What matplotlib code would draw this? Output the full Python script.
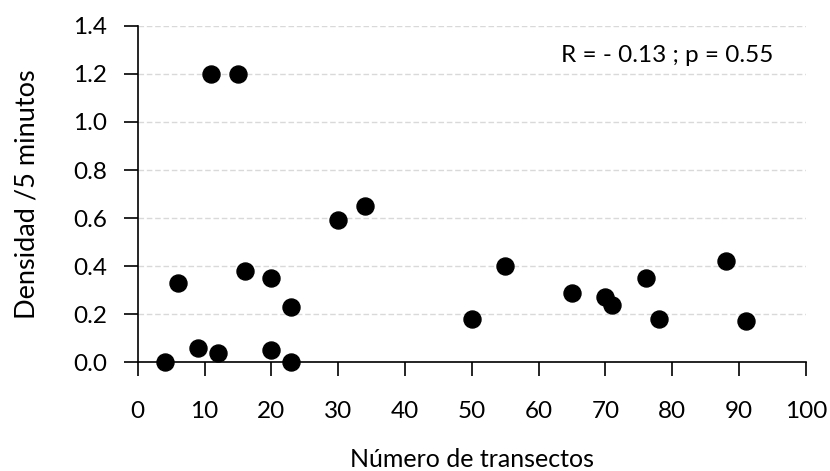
import matplotlib.pyplot as plt

plt.rcParams['font.family'] = ['Lato', 'DejaVu Sans']

# Data
transectos = [4, 6, 9, 11, 12, 15, 16, 20, 20, 23, 23, 30, 34,
              50, 55, 65, 70, 71, 76, 78, 88, 91]
densidad = [0.0, 0.33, 0.06, 1.2, 0.04, 1.2, 0.38, 0.35, 0.05, 0.23, 0.0, 0.59, 0.65,
            0.18, 0.40, 0.29, 0.27, 0.24, 0.35, 0.18, 0.42, 0.17]
x_ticks = list(range(0, 101, 10))
y_ticks = [0.0, 0.2, 0.4, 0.6, 0.8, 1.0, 1.2, 1.4]
stats_text = "R = - 0.13 ; p = 0.55"

fig = plt.figure(figsize=(8.3, 4.71), dpi=100)
ax = fig.add_axes([0.166, 0.231, 0.805, 0.714])

ax.scatter(transectos, densidad, s=150, color='black', zorder=3, clip_on=False)

ax.set_xlim(0, 100)
ax.set_ylim(0, 1.4)
ax.set_xticks(x_ticks)
ax.set_yticks(y_ticks)
ax.set_yticklabels([f"{v:.1f}" for v in y_ticks])

ax.grid(axis='y', color='#d9d9d9', linestyle=(0, (4, 2)), linewidth=1)
ax.set_axisbelow(True)

for side in ['top', 'right']:
    ax.spines[side].set_visible(False)
for side in ['left', 'bottom']:
    ax.spines[side].set_linewidth(1.2)

ax.tick_params(axis='x', direction='out', length=10, width=1.2, pad=18, labelsize=17.5)
ax.tick_params(axis='y', direction='out', length=10, width=1.2, pad=12, labelsize=17.5)

ax.set_xlabel("Número de transectos", fontsize=18, labelpad=19)
ax.set_ylabel("Densidad /5 minutos", fontsize=19.5, labelpad=24)

ax.text(0.792, 0.912, stats_text, transform=ax.transAxes, ha='center', va='center', fontsize=17.5)

fig.savefig("out.png", dpi=100)
